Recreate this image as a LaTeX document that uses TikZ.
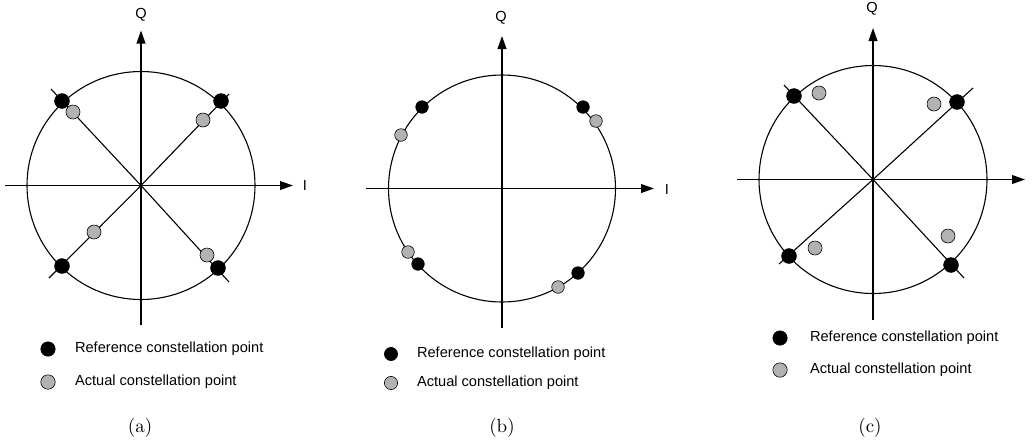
\documentclass[tikz,border=0pt]{standalone}
\usepackage{fontspec}
\newfontfamily\lblfont{Liberation Sans}
\usetikzlibrary{arrows.meta}
\begin{document}
\begin{tikzpicture}[x=0.5pt,y=-0.5pt,
  every node/.style={font=\lblfont\fontsize{7.3}{8.7}\selectfont},
  axis/.style={line width=0.7pt,-{Triangle[length=6.5pt,width=4.4pt]}},
  rim/.style={line width=0.55pt},
  refdot/.style={circle,draw=black,fill=black,line width=0.3pt,inner sep=0pt,minimum size=7.4pt},
  actdot/.style={circle,draw=black,fill=black!30,line width=0.3pt,inner sep=0pt,minimum size=7pt},
  capt/.style={font=\fontsize{9.5}{11}\selectfont}]
\useasboundingbox (0,0) rectangle (1036,446);
% (a)
\coordinate (oa) at (141,185.5);
\draw[rim] (oa) circle (114);
\draw[axis] (5,185.5) -- (293,185.5);
\draw[axis] (141,325) -- (141,30.5);
\node (ia) at (305,185) {I};
\node (qa) at (141,15) {Q};
\draw[rim] (oa) -- (51,89);
\draw[rim] (oa) -- (229,94);
\draw[rim] (oa) -- (49,278);
\draw[rim] (oa) -- (229,282);
\node[actdot] (a5) at (73,112) {};
\node[actdot] (a6) at (203,120) {};
\node[actdot] (a7) at (94,232) {};
\node[actdot] (a8) at (207,255) {};
\node[refdot] (a1) at (62,101) {};
\node[refdot] (a2) at (221,101) {};
\node[refdot] (a3) at (62,266) {};
\node[refdot] (a4) at (218,268) {};
\node[refdot,minimum width=6.4pt,minimum height=7.2pt] (la1) at (48,349) {};
\node[anchor=west] (lt1) at (68,349) {Reference constellation point};
\node[actdot,minimum width=6.4pt,minimum height=7.2pt] (la2) at (48,382) {};
\node[anchor=west] (lt2) at (68,382) {Actual constellation point};
\node[capt] (ca) at (140,428) {(a)};
% (b)
\coordinate (ob) at (502,188.5);
\draw[rim] (ob) circle (113.5);
\draw[axis] (366,188.5) -- (654,188.5);
\draw[axis] (502,328) -- (502,36);
\node (ib) at (667,189) {I};
\node (qb) at (501,18) {Q};
\node[actdot,minimum size=6.3pt] (b5) at (401,135) {};
\node[actdot,minimum size=6.3pt] (b6) at (596,121) {};
\node[actdot,minimum size=6.3pt] (b7) at (408,252) {};
\node[actdot,minimum size=6.3pt] (b8) at (558,287) {};
\node[refdot,minimum size=6.3pt] (b1) at (422,107) {};
\node[refdot,minimum size=6.3pt] (b2) at (583,107) {};
\node[refdot,minimum size=6.3pt] (b3) at (418,264) {};
\node[refdot,minimum size=6.3pt] (b4) at (578,273) {};
\node[refdot,minimum width=5.8pt,minimum height=6.6pt] (lb1) at (391,354) {};
\node[anchor=west] (lt3) at (410,354) {Reference constellation point};
\node[actdot,minimum width=5.8pt,minimum height=6.6pt] (lb2) at (391,383) {};
\node[anchor=west] (lt4) at (410,383) {Actual constellation point};
\node[capt] (cb) at (502,428) {(b)};
% (c)
\coordinate (oc) at (873,179.5);
\draw[rim] (oc) circle (114);
\draw[axis] (737,179.5) -- (1025,179.5);
\draw[axis] (873,320) -- (873,28);
\node (qc) at (872,9) {Q};
\draw[rim] (oc) -- (784,85);
\draw[rim] (oc) -- (973,88);
\draw[rim] (oc) -- (779,264);
\draw[rim] (oc) -- (964,278);
\node[actdot] (c5) at (819,93) {};
\node[actdot] (c6) at (934,104) {};
\node[actdot] (c7) at (815,248) {};
\node[actdot] (c8) at (948,236) {};
\node[refdot] (c1) at (794,96) {};
\node[refdot] (c2) at (957,102) {};
\node[refdot] (c3) at (789,256) {};
\node[refdot] (c4) at (951,265) {};
\node[refdot,minimum width=6.4pt,minimum height=7.2pt] (lc1) at (780,338) {};
\node[anchor=west] (lt5) at (803,338) {Reference constellation point};
\node[actdot,minimum width=6.4pt,minimum height=7.2pt] (lc2) at (780,370) {};
\node[anchor=west] (lt6) at (803,370) {Actual constellation point};
\node[capt] (cc) at (870,428) {(c)};
\end{tikzpicture}
\end{document}
